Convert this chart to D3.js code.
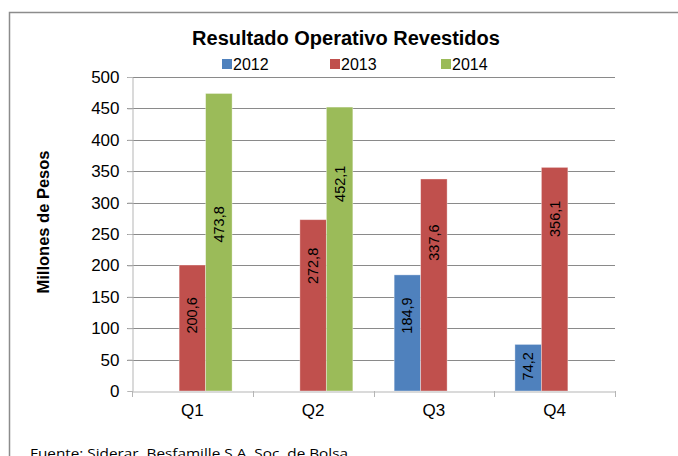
<!DOCTYPE html>
<html lang="es">
<head>
<meta charset="UTF-8">
<title>Resultado Operativo Revestidos</title>
<style>
  body { margin: 0; background: #fff; }
  svg { display: block; font-family: Arial, "Liberation Sans", sans-serif; }
</style>
</head>
<body>
<div id="chart"></div>
<script src="https://d3js.org/d3.v7.min.js"></script>
<script>
// datos
var quarters = ['Q1', 'Q2', 'Q3', 'Q4']
var years = ['2012', '2013', '2014']
var v2012 = [null, null, 184.9, 74.2]
var v2013 = [200.6, 272.8, 337.6, 356.1]
var v2014 = [473.8, 452.1, null, null]
var yTicks = [0, 50, 100, 150, 200, 250, 300, 350, 400, 450, 500]
var colors = ['#4F81BD', '#C0504D', '#9BBB59']
// altura de la etiqueta dentro de la barra (fraccion)
var labelPos = [[0, 0, 0.65, 0.53], [0.6, 0.73, 0.7, 0.77], [0.56, 0.73, 0, 0]]

function render () {
  var W = 678, H = 456
  var svg = d3.select('#chart').append('svg').attr('width', W).attr('height', H)

  // marco
  svg.append('rect')
    .attr('x', 9.5).attr('y', 12.5).attr('width', 700).attr('height', 500)
    .style('fill', '#fff').style('stroke', '#8c8c8c').style('stroke-width', 1.5)

  var pl = 132, pr = 615, pt = 77, pb = 391

  var x = d3.scaleBand().domain(quarters).range([pl, pr]).paddingInner(0).paddingOuter(0)
  var inner = d3.scaleBand().domain(years).range([0, x.bandwidth()]).paddingInner(0).paddingOuter(0.78)
  var y = d3.scaleLinear().domain([0, 500]).range([pb, pt])

  // lineas de cuadricula
  svg.append('g').selectAll('line').data(yTicks.filter(function (d) { return d > 0 })).enter()
    .append('line')
    .attr('x1', pl - 5).attr('x2', pr)
    .attr('y1', function (d) { return Math.round(y(d)) + 0.5 })
    .attr('y2', function (d) { return Math.round(y(d)) + 0.5 })
    .style('stroke', '#8a8a8a').style('stroke-width', 1)

  // eje y
  var yAxis = svg.append('g').attr('transform', 'translate(' + (pl + 0.5) + ',0)')
    .call(d3.axisLeft(y).tickValues(yTicks).tickSize(5).tickPadding(8))
  yAxis.select('.domain').style('stroke', '#b5b5b5')
  yAxis.selectAll('.tick line').style('stroke', '#b5b5b5')
  yAxis.selectAll('text').style('font-size', '17px').style('fill', '#000')
    .style('font-family', 'Arial, "Liberation Sans", sans-serif')

  // barras
  var series = [v2012, v2013, v2014]
  series.forEach(function (vals, si) {
    var g = svg.append('g')
    vals.forEach(function (v, qi) {
      if (v === null) return
      var bx = x(quarters[qi]) + inner(years[si])
      g.append('rect')
        .attr('x', bx).attr('y', y(v))
        .attr('width', inner.bandwidth()).attr('height', y(0) - y(v))
        .style('fill', colors[si])
        .style('stroke', 'rgba(255,255,255,0.45)').style('stroke-width', 0.8)
      var ly = y(0) - (y(0) - y(v)) * labelPos[si][qi]
      g.append('text')
        .attr('transform', 'translate(' + (bx + inner.bandwidth() / 2 + 5) + ',' + ly + ') rotate(-90)')
        .attr('text-anchor', 'middle')
        .style('font-size', '14.5px').style('fill', '#000')
        .text(String(v).replace('.', ','))
    })
  })

  // eje x
  var xAxis = svg.append('g').attr('transform', 'translate(0,' + (pb + 0.5) + ')')
    .call(d3.axisBottom(x).tickSize(0).tickPadding(12))
  xAxis.select('.domain').style('stroke', '#b5b5b5')
  xAxis.selectAll('text').style('font-size', '17px').style('fill', '#000')
    .style('font-family', 'Arial, "Liberation Sans", sans-serif')
  svg.append('g').selectAll('line').data(quarters.concat(['end'])).enter()
    .append('line')
    .attr('x1', function (d, i) { return Math.round(pl + i * x.bandwidth()) + 0.5 })
    .attr('x2', function (d, i) { return Math.round(pl + i * x.bandwidth()) + 0.5 })
    .attr('y1', pb).attr('y2', pb + 6)
    .style('stroke', '#b5b5b5')

  // titulo
  svg.append('text').attr('x', 346).attr('y', 45)
    .attr('text-anchor', 'middle')
    .style('font-size', '20px').style('font-weight', 'bold')
    .text('Resultado Operativo Revestidos')

  // leyenda
  var legX = [222, 330, 441]
  var leg = svg.append('g')
  years.forEach(function (yr, i) {
    leg.append('rect').attr('x', legX[i]).attr('y', 59).attr('width', 10).attr('height', 10)
      .style('fill', colors[i])
    leg.append('text').attr('x', legX[i] + 11).attr('y', 70)
      .style('font-size', '16px').text(yr)
  })

  // titulo eje y
  svg.append('text')
    .attr('transform', 'translate(49,' + 222 + ') rotate(-90)')
    .attr('text-anchor', 'middle')
    .style('font-size', '16.5px').style('font-weight', 'bold')
    .text('Millones de Pesos')

  // fuente
  svg.append('text').attr('x', 30).attr('y', 458)
    .style('font-family', '"Open Sans", "Noto Sans", sans-serif')
    .style('font-size', '13.5px')
    .attr('textLength', 318).attr('lengthAdjust', 'spacingAndGlyphs')
    .text('Fuente: Siderar, Besfamille S.A. Soc. de Bolsa')
}
render()
</script>
</body>
</html>
